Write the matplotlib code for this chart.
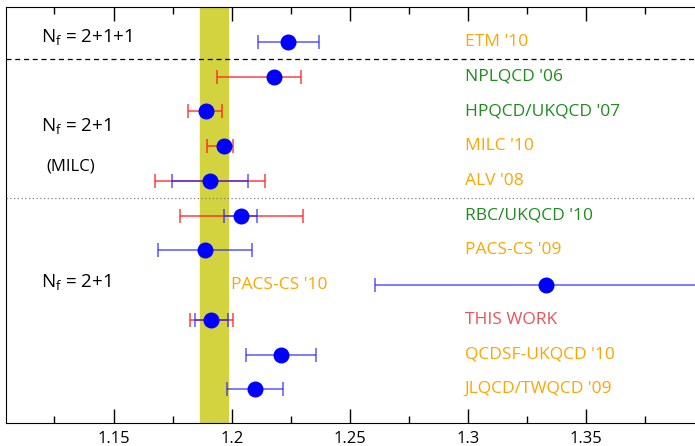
"""Forest plot of lattice results with the averaged band."""

import matplotlib
matplotlib.use("Agg")
import matplotlib.pyplot as plt
from matplotlib.ticker import MultipleLocator

plt.rcParams["font.family"] = ["Open Sans", "DejaVu Sans"]

# rows from top to bottom
labels = ["ETM '10", "NPLQCD '06", "HPQCD/UKQCD '07", "MILC '10", "ALV '08",
          "RBC/UKQCD '10", "PACS-CS '09", "PACS-CS '10", "THIS WORK",
          "QCDSF-UKQCD '10", "JLQCD/TWQCD '09"]
label_colors = ["orange", "green", "green", "orange", "orange", "green",
                "orange", "orange", "red", "orange", "orange"]
centers = [1.2237, 1.2179, 1.1889, 1.1969, 1.1909, 1.2038, 1.1888, 1.3331,
           1.1912, 1.2209, 1.2100]
# total (red) error bars: (low, high), None where absent
red_err = [None, (1.1939, 1.2293), (1.1817, 1.1960), (1.1896, 1.2004),
           (1.1675, 1.2142), (1.1780, 1.2300), None, None,
           (1.1822, 1.2004), None, None]
# statistical (blue) error bars
blue_err = [(1.2110, 1.2368), None, None, None, (1.1747, 1.2069),
            (1.1967, 1.2108), (1.1686, 1.2087), (1.2608, 1.4100),
            (1.1844, 1.1986), (1.2060, 1.2358), (1.1980, 1.2217)]
band = (1.1865, 1.1986)

COLORS = {"orange": "#ffa500", "green": "#1e8c1e", "red": "#e8545a"}

fig = plt.figure(figsize=(6.95, 4.46), dpi=100)
ax = fig.add_axes([6 / 695, 23 / 446, 1.0, 416 / 446])

n = len(labels)
ys = [n - i for i in range(n)]

ax.axvspan(band[0], band[1], color="#d3d33f", zorder=0)

for y, c, r, b in zip(ys, centers, red_err, blue_err):
    if r is not None:
        ax.errorbar(c, y, xerr=[[c - r[0]], [r[1] - c]], fmt="none",
                    ecolor="#ff2020", elinewidth=1.1, capsize=5, capthick=1.1,
                    alpha=0.85, zorder=2)
    if b is not None:
        ax.errorbar(c, y, xerr=[[c - b[0]], [b[1] - c]], fmt="none",
                    ecolor="#2020ff", elinewidth=1.1, capsize=5, capthick=1.1,
                    alpha=0.75, zorder=3)
    ax.plot(c, y, "o", color="blue", markersize=10.5, zorder=4)

for y, lab, col in zip(ys, labels, label_colors):
    x_lab = 1.1995 if lab == "PACS-CS '10" else 1.2985
    ax.text(x_lab, y, lab, color=COLORS[col], fontsize=12.5,
            va="center", ha="left")

# group separators
ax.axhline(n - 0.5, color="black", linestyle=(0, (4, 3)), linewidth=0.9)
ax.axhline(n - 4.5, color="gray", linestyle=(0, (1, 2)), linewidth=0.9)

nf_style = dict(fontsize=13.5, va="center")
ax.text(1.1195, n + 0.12, r"N$_\mathregular{f}$ = 2+1+1", **nf_style)
ax.text(1.1195, n - 2.45, r"N$_\mathregular{f}$ = 2+1", **nf_style)
ax.text(1.1215, n - 3.6, "(MILC)", fontsize=12, va="center")
ax.text(1.1195, n - 6.95, r"N$_\mathregular{f}$ = 2+1", **nf_style)

ax.set_xlim(1.1045, 1.3985)
ax.set_ylim(0.03, n + 1)
ax.set_yticks([])
ax.xaxis.set_major_locator(MultipleLocator(0.05))
ax.xaxis.set_minor_locator(MultipleLocator(0.025))
ax.set_xticks([1.15, 1.2, 1.25, 1.3, 1.35])
ax.set_xticklabels(["1.15", "1.2", "1.25", "1.3", "1.35"])
ax.tick_params(axis="x", which="both", direction="in", top=True,
               labelsize=12, pad=6)
ax.tick_params(axis="x", which="major", length=10, width=1)
ax.tick_params(axis="x", which="minor", length=5, width=1)
ax.spines["right"].set_visible(False)

fig.savefig("out.png", dpi=100)
